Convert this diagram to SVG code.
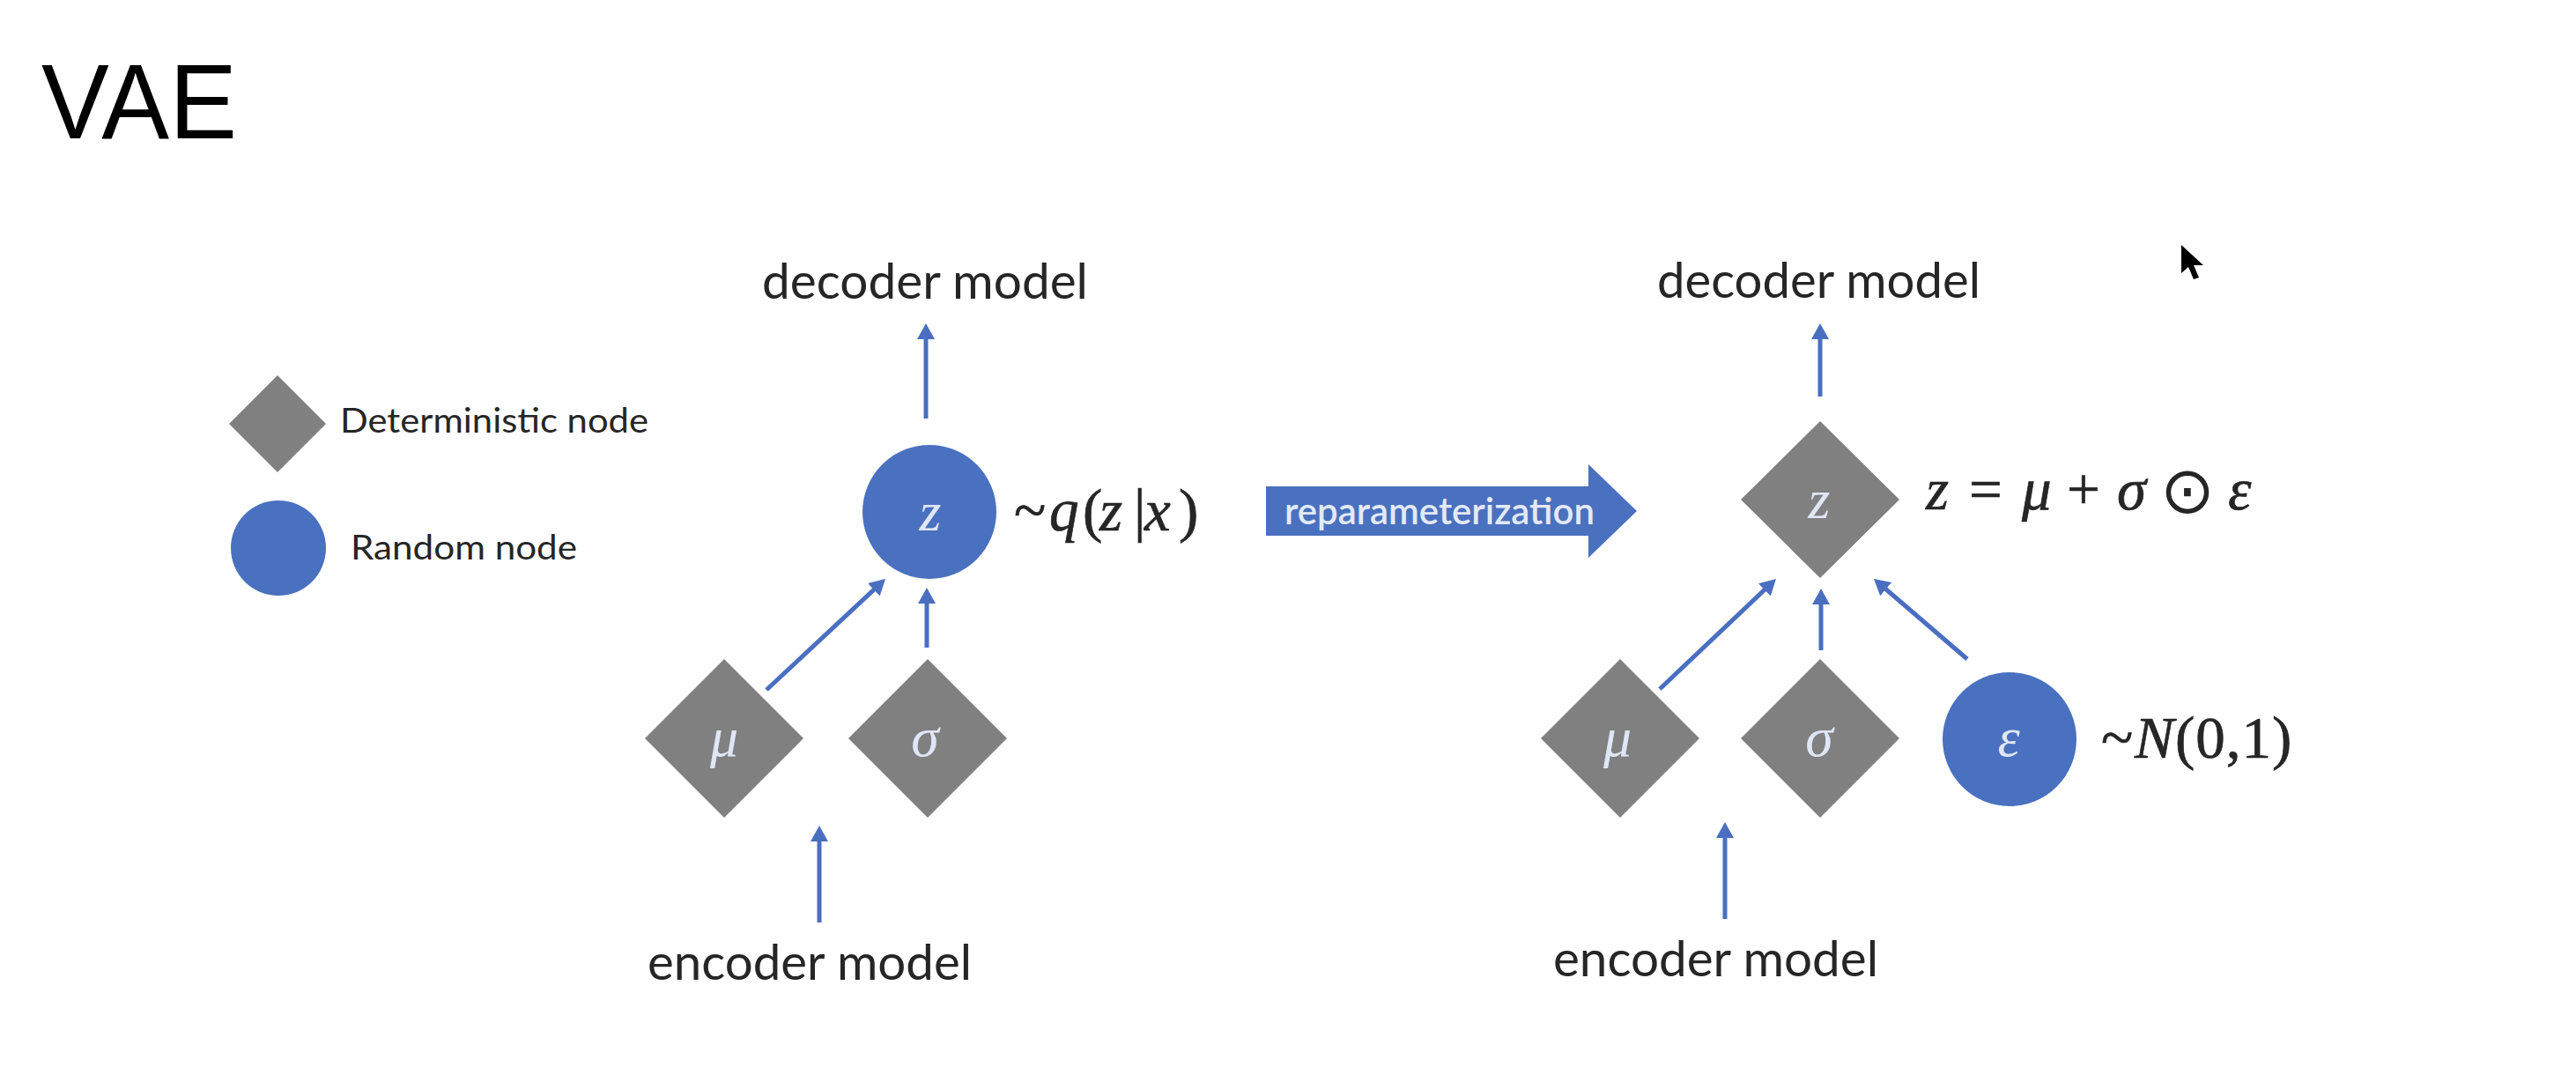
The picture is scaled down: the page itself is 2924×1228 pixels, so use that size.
<svg xmlns="http://www.w3.org/2000/svg" width="2924" height="1228" viewBox="0 0 2924 1228">
<style>
.lbl{font-family:Lato,"Open Sans","Liberation Sans",sans-serif;fill:#262626}
.math{font-family:"Liberation Serif","DejaVu Serif",serif;fill:#262626;stroke:#262626;stroke-width:0.7;font-size:67px}
.it{font-style:italic}
.nl{font-family:"Liberation Serif","DejaVu Serif",serif;font-style:italic;fill:#dfe6f5;font-size:64px;text-anchor:middle}
.det{fill:#808080}
.rnd{fill:#4a71bf}
.con{stroke:#4a6fc0;stroke-width:5;fill:none;marker-end:url(#ah)}
</style>
<defs>
<marker id="ah" markerUnits="userSpaceOnUse" viewBox="0 0 18 20" markerWidth="18" markerHeight="20" refX="8" refY="10" orient="auto">
<path d="M0,0 L18,10 L0,20 z" fill="#4a6fc0"/>
</marker>
</defs>
<rect width="2924" height="1228" fill="#ffffff"/>

<text id="title" x="47" y="157" font-family="'Liberation Sans',Arial,sans-serif" font-size="120" textLength="222" lengthAdjust="spacingAndGlyphs" fill="#000">VAE</text>

<g id="legend">
<polygon class="det" points="315,426 370,481 315,536 260,481"/>
<text class="lbl" x="386" y="491" font-size="38" textLength="350" lengthAdjust="spacingAndGlyphs">Deterministic node</text>
<circle class="rnd" cx="316" cy="622" r="54"/>
<text class="lbl" x="398" y="635" font-size="38" textLength="257" lengthAdjust="spacingAndGlyphs">Random node</text>
</g>

<g id="connectors">
<line class="con" x1="1051" y1="475" x2="1051" y2="377"/>
<line class="con" x1="870" y1="783" x2="997.7" y2="663.8"/>
<line class="con" x1="1052" y1="735" x2="1052" y2="677"/>
<line class="con" x1="930" y1="1047" x2="930" y2="947"/>
<line class="con" x1="2066" y1="450" x2="2066" y2="377"/>
<line class="con" x1="1884" y1="782" x2="2008.7" y2="663.9"/>
<line class="con" x1="2067" y1="738" x2="2067" y2="678"/>
<line class="con" x1="2233" y1="748" x2="2134.6" y2="663.5"/>
<line class="con" x1="1958" y1="1043" x2="1958" y2="943"/>
</g>

<g id="left-decoder">
<text class="lbl" x="865" y="339" font-size="56" textLength="370" lengthAdjust="spacingAndGlyphs">decoder model</text>
</g>
<g id="left-z">
<circle class="rnd" cx="1055" cy="581" r="76"/>
<text class="nl" x="1056" y="602">z</text>
<text class="math"><tspan x="1151" y="602">~</tspan><tspan class="it" x="1191">q</tspan><tspan x="1229">(</tspan><tspan class="it" x="1248">z</tspan><tspan x="1287">|</tspan><tspan class="it" x="1299">x</tspan><tspan x="1338">)</tspan></text>
</g>
<g id="left-mu">
<polygon class="det" points="822,748 912,838 822,928 732,838"/>
<text class="nl" x="822" y="858">μ</text>
</g>
<g id="left-sigma">
<polygon class="det" points="1053,748 1143,838 1053,928 963,838"/>
<text class="nl" x="1050" y="858">σ</text>
</g>
<g id="left-encoder">
<text class="lbl" x="735" y="1112" font-size="56" textLength="368" lengthAdjust="spacingAndGlyphs">encoder model</text>
</g>

<g id="reparameterization">
<polygon fill="#4a71bf" points="1437,552 1803,552 1803,527 1858,580 1803,633 1803,608 1437,608"/>
<text x="1458" y="595" font-family="Lato,'Open Sans',sans-serif" font-weight="600" font-size="42" fill="#e3e9f8" textLength="352" lengthAdjust="spacingAndGlyphs">reparameterization</text>
</g>

<g id="right-decoder">
<text class="lbl" x="1881" y="338" font-size="56" textLength="367" lengthAdjust="spacingAndGlyphs">decoder model</text>
</g>
<g id="right-z">
<polygon class="det" points="2066,478 2156,567 2066,656 1976,567"/>
<text class="nl" x="2065" y="588">z</text>
<text class="math"><tspan class="it" x="2186" y="578">z</tspan><tspan x="2235">=</tspan><tspan class="it" x="2295">μ</tspan><tspan x="2346">+</tspan><tspan class="it" x="2403">σ</tspan><tspan x="2452" y="582" font-family="'DejaVu Sans',sans-serif" font-size="74" stroke-width="0">⊙</tspan><tspan class="it" x="2529" y="578">ε</tspan></text>
</g>
<g id="right-mu">
<polygon class="det" points="1839,748 1929,838 1839,928 1749,838"/>
<text class="nl" x="1836" y="858">μ</text>
</g>
<g id="right-sigma">
<polygon class="det" points="2066,748 2156,838 2066,928 1976,838"/>
<text class="nl" x="2065" y="858">σ</text>
</g>
<g id="right-epsilon">
<circle class="rnd" cx="2281" cy="839" r="76"/>
<text class="nl" x="2280" y="858">ε</text>
<text class="math"><tspan x="2385" y="860">~</tspan><tspan class="it" x="2423">N</tspan><tspan x="2469" letter-spacing="1">(0,1)</tspan></text>
</g>
<g id="right-encoder">
<text class="lbl" x="1763" y="1108" font-size="56" textLength="369" lengthAdjust="spacingAndGlyphs">encoder model</text>
</g>

<polygon id="cursor" fill="#000" points="2476,278 2476,310 2484,303 2490,317 2496,315 2490,301 2501,301"/>
</svg>
